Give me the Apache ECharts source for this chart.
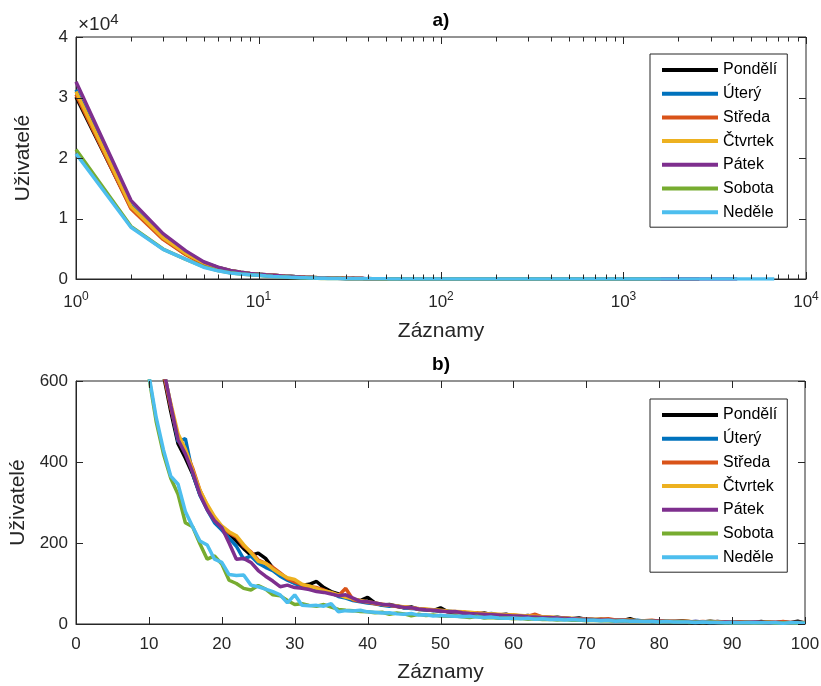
<!DOCTYPE html>
<html><head><meta charset="utf-8">
<script src="https://cdn.jsdelivr.net/npm/echarts@6/dist/echarts.min.js"></script>
<style>html,body{margin:0;padding:0;background:#fff}#c{width:821px;height:686px}</style>
</head><body><div id="c"></div>
<script>
const dayNames = ['Pondělí','Úterý','Středa','Čtvrtek','Pátek','Sobota','Neděle'];
const dayColors = ['#000000','#0072BD','#D95319','#EDB120','#7E2F8E','#77AC30','#4DBEEE'];

// number of records (x) 1..100
const records = Array.from({length: 100}, (_, i) => i + 1);

const po = [30100,11800,6700,4100,2650,1850,1380,1080,880,770,
  680,615,525,445,410,370,320,285,258,238,
  222,205,186,170,175,162,138,122,112,102,
  96,98,105,90,80,74,68,60,58,66,
  52,47,48,44,40,42,36,35,33,40,
  30,28,30,26,25,27,23,22,24,20,
  19,21,18,16,15,17,14,13,15,11,
  10,12,10,9,8,13,7,8,6,7,
  6,5,8,6,4,5,7,5,3,4,
  5,3,4,6,3,4,5,3,7,2];
const ut = [31300,12200,6900,4250,2750,1920,1420,1110,900,790,
  700,630,540,450,458,372,318,282,250,232,
  212,192,160,168,150,140,132,118,108,100,
  94,90,86,80,77,68,64,58,55,52,
  50,46,44,45,40,38,37,35,33,31,
  32,29,27,28,25,24,26,22,21,20,
  20,18,17,18,15,16,14,13,12,13,
  11,10,11,9,10,8,9,7,8,7,
  6,7,6,5,6,5,4,6,5,4,
  4,5,3,4,5,3,4,3,4,3];
const st = [30500,11600,6550,4000,2450,1800,1350,1060,870,760,
  680,620,535,460,430,385,330,292,262,240,
  225,215,192,178,158,150,140,126,112,104,
  97,92,90,84,76,70,88,60,56,54,
  50,48,46,43,42,40,37,36,34,33,
  31,30,29,27,28,25,24,23,21,22,
  20,19,24,17,16,15,15,13,12,12,
  11,12,13,10,9,9,8,8,9,7,
  7,6,7,6,5,6,5,6,4,5,
  5,4,5,4,5,4,6,3,4,4];
const ct = [31000,12000,6800,4200,2700,1900,1400,1100,900,780,
  690,625,545,470,432,380,330,295,265,242,
  228,218,196,176,155,150,136,124,114,110,
  98,94,88,82,78,72,66,62,58,55,
  52,49,46,45,42,40,38,37,35,34,
  32,31,30,29,27,26,25,24,23,22,
  21,20,19,18,17,16,15,14,12,13,
  12,11,10,10,9,9,8,8,7,7,
  6,7,6,6,5,5,6,5,5,4,
  4,4,3,4,4,3,3,4,3,3];
const pa = [32600,13000,7500,4650,2850,1950,1420,1110,910,790,
  700,630,540,455,420,375,320,282,255,238,
  200,160,162,152,132,118,106,92,96,90,
  88,85,80,78,74,70,72,64,56,55,
  52,49,47,44,41,40,37,35,34,32,
  30,31,28,26,25,24,23,22,21,20,
  20,18,17,16,16,15,14,13,12,12,
  11,10,10,9,9,8,8,7,8,7,
  6,6,6,5,6,5,5,4,5,5,
  4,4,5,4,3,4,3,4,3,3];
const so = [21400,8700,4950,3250,2050,1380,1020,830,710,610,
  500,420,360,320,250,240,198,160,168,148,
  108,100,88,84,95,86,72,70,58,48,
  50,46,44,48,42,36,34,33,31,30,
  28,29,24,27,25,20,24,21,22,20,
  19,20,18,16,19,15,16,14,15,13,
  14,12,13,11,12,10,11,9,10,8,
  9,8,8,7,8,6,7,6,7,5,
  6,5,6,4,5,4,5,4,3,4,
  3,4,3,3,4,2,3,3,2,3];
const ne = [20700,8550,4900,3250,1950,1350,1000,810,700,615,
  510,430,365,345,278,240,205,195,160,152,
  122,120,121,96,92,86,80,72,52,72,
  46,45,46,44,50,30,33,32,34,30,
  29,27,28,25,24,26,22,23,20,21,
  20,19,18,19,17,16,17,15,14,15,
  13,14,12,13,11,12,10,11,10,9,
  9,8,9,7,8,7,7,6,6,5,
  6,5,5,5,4,5,4,4,3,4,
  3,3,4,3,3,3,2,3,3,2];

// long tail beyond 100 records (top, log-scale plot)
const tailRecords = [130, 180, 250, 400, 650, 1000, 1600, 2600, 4200, 6700];
const poTail = [2, 2, 1, 1, 1, 1, 1, 1];
const utTail = [3, 2, 1, 1, 1, 1, 1];
const stTail = [3, 2, 2, 1, 1, 1, 1, 1];
const ctTail = [2, 2, 1, 1, 1, 1];
const paTail = [3, 2, 1, 1, 1, 1, 1, 1, 1];
const soTail = [2, 1, 1, 1, 1, 1, 1];
const neTail = [2, 1, 1, 1, 1, 1, 1, 1, 1, 1];

const dayValues = [po, ut, st, ct, pa, so, ne];
const dayTails = [poTail, utTail, stTail, ctTail, paTail, soTail, neTail];

// tick values
const topXMajorTicks = [1, 10, 100, 1000, 10000];
const topXMinorTicks = [2,3,4,5,6,7,8,9,20,30,40,50,60,70,80,90,200,300,400,500,600,700,800,900,2000,3000,4000,5000,6000,7000,8000,9000];
const topYTicks = [0, 10000, 20000, 30000, 40000];
const bottomXTicks = [0, 10, 20, 30, 40, 50, 60, 70, 80, 90, 100];
const bottomYTicks = [0, 200, 400, 600];

const FONT = 'Liberation Sans, Arial, Helvetica, sans-serif';
const AX = '#262626';

const chart = echarts.init(document.getElementById('c'), null, {renderer: 'canvas'});

function baseAxis(extra) {
  return Object.assign({
    axisLine: {show: true, lineStyle: {color: AX, width: 1}},
    axisTick: {show: false},
    splitLine: {show: false},
    axisLabel: {color: AX, fontSize: 17, fontFamily: FONT},
    nameTextStyle: {color: AX, fontSize: 21, fontFamily: FONT}
  }, extra);
}

const supRich = {
  b: {fontSize: 17, color: AX, fontFamily: FONT, verticalAlign: 'bottom'},
  s: {fontSize: 12, color: AX, fontFamily: FONT, verticalAlign: 'bottom', padding: [0, 0, 8, 0]}
};

const xAxes = [
  baseAxis({gridIndex: 0, type: 'log', logBase: 10, min: 1, max: 10000, position: 'bottom',
    axisLabel: {margin: 12, showMinLabel: true, showMaxLabel: true,
      formatter: v => '{b|10}{s|' + Math.round(Math.log10(v)) + '}', rich: supRich},
    name: 'Záznamy', nameLocation: 'middle', nameGap: 42}),
  baseAxis({gridIndex: 1, type: 'value', min: 0, max: 100, interval: 10, position: 'bottom',
    axisLabel: {margin: 12, color: AX, fontSize: 17, fontFamily: FONT, showMinLabel: true, showMaxLabel: true},
    name: 'Záznamy', nameLocation: 'middle', nameGap: 38})
];

const yAxes = [
  baseAxis({gridIndex: 0, type: 'value', min: 0, max: 40000, interval: 10000, position: 'left',
    axisLabel: {margin: 8, color: AX, fontSize: 17, fontFamily: FONT, formatter: v => String(v / 10000)},
    name: 'Uživatelé', nameLocation: 'middle', nameGap: 42, nameRotate: 90}),
  baseAxis({gridIndex: 1, type: 'value', min: 0, max: 600, interval: 200, position: 'left',
    axisLabel: {margin: 8, color: AX, fontSize: 17, fontFamily: FONT},
    name: 'Uživatelé', nameLocation: 'middle', nameGap: 42, nameRotate: 90})
];

const series = [];
dayNames.forEach((name, i) => {
  const vals = dayValues[i];
  const top = records.map((r, k) => [r, vals[k]]);
  dayTails[i].forEach((v, k) => top.push([tailRecords[k], v]));
  const bottom = records.map((r, k) => [r, vals[k]]);
  const common = {type: 'line', name, showSymbol: false, symbol: 'none', animation: false,
    color: dayColors[i], itemStyle: {color: dayColors[i]},
    lineStyle: {width: 3.5, color: dayColors[i]}, emphasis: {disabled: true}, silent: true};
  series.push(Object.assign({xAxisIndex: 0, yAxisIndex: 0, data: top}, common));
  series.push(Object.assign({xAxisIndex: 1, yAxisIndex: 1, data: bottom}, common));
});

// inward ticks on all four sides, placed through the axes' scales
function tickSeries(gi, values, dir, len, xRef, yRef) {
  return {
    type: 'custom', name: 'ticks', xAxisIndex: gi, yAxisIndex: gi, silent: true, animation: false, z: 5,
    data: values.map(v => [v]),
    renderItem: function (params, api) {
      const cs = params.coordSys;
      const v = api.value(0);
      const st = {stroke: AX, lineWidth: 1};
      if (dir === 'x') {
        const x = Math.round(api.coord([v, yRef])[0]) + 0.5;
        const b = cs.y + cs.height;
        return {type: 'group', children: [
          {type: 'line', shape: {x1: x, y1: b, x2: x, y2: b - len}, style: st},
          {type: 'line', shape: {x1: x, y1: cs.y, x2: x, y2: cs.y + len}, style: st}
        ]};
      }
      const y = Math.round(api.coord([xRef, v])[1]) + 0.5;
      const r = cs.x + cs.width;
      return {type: 'group', children: [
        {type: 'line', shape: {x1: cs.x, y1: y, x2: cs.x + len, y2: y}, style: st},
        {type: 'line', shape: {x1: r, y1: y, x2: r - len, y2: y}, style: st}
      ]};
    }
  };
}
series.push(tickSeries(0, topXMajorTicks, 'x', 7, 1, 0));
series.push(tickSeries(0, topXMinorTicks, 'x', 4.5, 1, 0));
series.push(tickSeries(0, topYTicks, 'y', 7, 1, 0));
series.push(tickSeries(1, bottomXTicks, 'x', 7, 0, 0));
series.push(tickSeries(1, bottomYTicks, 'y', 7, 0, 0));

function legendAt(top) {
  return {data: dayNames, orient: 'vertical', left: 650, top: top, itemWidth: 56, itemHeight: 4,
    itemGap: 3.7, icon: 'rect', padding: [6, 10, 5, 12], borderColor: AX, borderWidth: 1,
    backgroundColor: '#fff', selectedMode: false,
    textStyle: {fontSize: 16, lineHeight: 20, color: '#000', fontFamily: FONT}};
}

chart.setOption({
  animation: false,
  backgroundColor: '#fff',
  textStyle: {fontFamily: FONT},
  grid: [
    {left: 76, right: 15, top: 37, height: 242, containLabel: false, outerBoundsMode: 'none',
      show: true, borderColor: AX, borderWidth: 1, backgroundColor: 'transparent'},
    {left: 76, right: 16, top: 381, height: 243, containLabel: false, outerBoundsMode: 'none',
      show: true, borderColor: AX, borderWidth: 1, backgroundColor: 'transparent'}
  ],
  legend: [legendAt(54), legendAt(399)],
  xAxis: xAxes,
  yAxis: yAxes,
  series: series,
  graphic: [
    {type: 'text', x: 441, y: 21, style: {text: 'a)', fill: '#000', align: 'center', verticalAlign: 'middle',
      font: 'bold 19px ' + FONT}},
    {type: 'text', x: 441, y: 365, style: {text: 'b)', fill: '#000', align: 'center', verticalAlign: 'middle',
      font: 'bold 19px ' + FONT}},
    {type: 'text', x: 78, y: 34, style: {text: '{a|×10}{s|4}', verticalAlign: 'bottom', align: 'left',
      rich: {a: {fontSize: 19, fill: AX, fontFamily: FONT, verticalAlign: 'bottom'},
             s: {fontSize: 15, fill: AX, fontFamily: FONT, verticalAlign: 'bottom', padding: [0, 0, 7, 0]}}}}
  ]
});
</script></body></html>
